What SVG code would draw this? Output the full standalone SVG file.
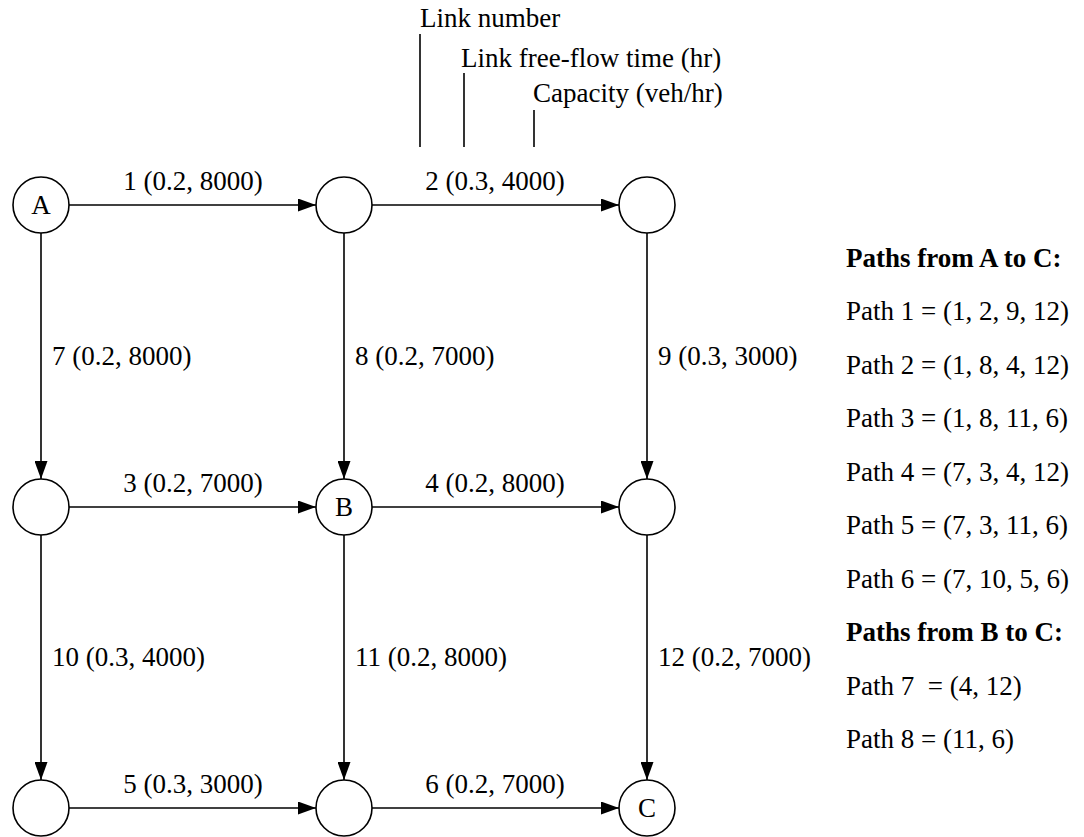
<svg xmlns="http://www.w3.org/2000/svg" width="1084" height="837" viewBox="0 0 1084 837">
<style>
text{font-family:"Liberation Serif","Times New Roman",serif;font-size:27px;fill:#000}
.b{font-weight:bold}
.m{text-anchor:middle}
circle{fill:#fff;stroke:#000;stroke-width:1.6}
.e line{stroke:#000;stroke-width:1.6}
.lead{stroke:#000;stroke-width:1.6}
</style>
<defs>
<marker id="ah" markerUnits="userSpaceOnUse" markerWidth="18" markerHeight="13" refX="18" refY="6.5" orient="auto">
<path d="M0,0 L18,6.5 L0,13 z" fill="#000"/>
</marker>
</defs>
<g id="connectors" class="e">
<line x1="69" y1="205" x2="316" y2="205" marker-end="url(#ah)"/>
<line x1="372" y1="205" x2="619" y2="205" marker-end="url(#ah)"/>
<line x1="69" y1="507" x2="316" y2="507" marker-end="url(#ah)"/>
<line x1="372" y1="507" x2="619" y2="507" marker-end="url(#ah)"/>
<line x1="69" y1="808" x2="316" y2="808" marker-end="url(#ah)"/>
<line x1="372" y1="808" x2="619" y2="808" marker-end="url(#ah)"/>
<line x1="41" y1="233" x2="41" y2="479" marker-end="url(#ah)"/>
<line x1="344" y1="233" x2="344" y2="479" marker-end="url(#ah)"/>
<line x1="647" y1="233" x2="647" y2="479" marker-end="url(#ah)"/>
<line x1="41" y1="535" x2="41" y2="780" marker-end="url(#ah)"/>
<line x1="344" y1="535" x2="344" y2="780" marker-end="url(#ah)"/>
<line x1="647" y1="535" x2="647" y2="780" marker-end="url(#ah)"/>
</g>
<g id="link-labels">
<text class="m" x="193" y="190">1 (0.2, 8000)</text>
<text class="m" x="495" y="190">2 (0.3, 4000)</text>
<text class="m" x="193" y="492">3 (0.2, 7000)</text>
<text class="m" x="495" y="492">4 (0.2, 8000)</text>
<text class="m" x="193" y="793">5 (0.3, 3000)</text>
<text class="m" x="495" y="793">6 (0.2, 7000)</text>
<text x="52" y="365">7 (0.2, 8000)</text>
<text x="355" y="365">8 (0.2, 7000)</text>
<text x="658" y="365">9 (0.3, 3000)</text>
<text x="52" y="666">10 (0.3, 4000)</text>
<text x="355" y="666">11 (0.2, 8000)</text>
<text x="658" y="666">12 (0.2, 7000)</text>
</g>
<g id="legend">
<text x="420" y="27">Link number</text>
<text x="461" y="67">Link free-flow time (hr)</text>
<text x="533" y="102">Capacity (veh/hr)</text>
<line class="lead" x1="420" y1="34" x2="420" y2="147"/>
<line class="lead" x1="464" y1="73" x2="464" y2="147"/>
<line class="lead" x1="534" y1="110" x2="534" y2="147"/>
</g>
<g id="node-A"><circle cx="41" cy="205" r="28"/><text class="m" x="41" y="214">A</text></g>
<g id="node-2"><circle cx="344" cy="205" r="28"/></g>
<g id="node-3"><circle cx="647" cy="205" r="28"/></g>
<g id="node-4"><circle cx="41" cy="507" r="28"/></g>
<g id="node-B"><circle cx="344" cy="507" r="28"/><text class="m" x="344" y="516">B</text></g>
<g id="node-6"><circle cx="647" cy="507" r="28"/></g>
<g id="node-7"><circle cx="41" cy="808" r="28"/></g>
<g id="node-8"><circle cx="344" cy="808" r="28"/></g>
<g id="node-C"><circle cx="647" cy="808" r="28"/><text class="m" x="647" y="817">C</text></g>
<g id="paths">
<text class="b" x="846" y="267">Paths from A to C:</text>
<text x="846" y="320">Path 1 = (1, 2, 9, 12)</text>
<text x="846" y="374">Path 2 = (1, 8, 4, 12)</text>
<text x="846" y="427">Path 3 = (1, 8, 11, 6)</text>
<text x="846" y="481">Path 4 = (7, 3, 4, 12)</text>
<text x="846" y="534">Path 5 = (7, 3, 11, 6)</text>
<text x="846" y="588">Path 6 = (7, 10, 5, 6)</text>
<text class="b" x="846" y="641">Paths from B to C:</text>
<text x="846" y="695" xml:space="preserve">Path 7  = (4, 12)</text>
<text x="846" y="748">Path 8 = (11, 6)</text>
</g>
</svg>
